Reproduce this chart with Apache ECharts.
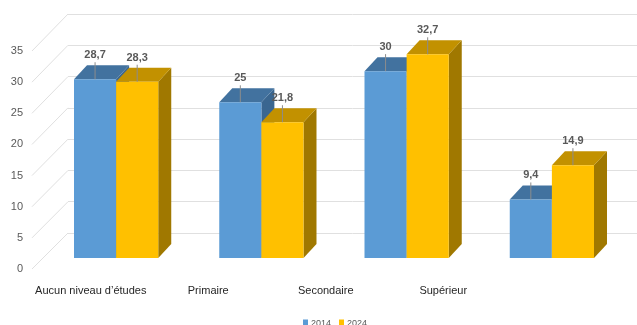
<!DOCTYPE html>
<html>
<head>
<meta charset="utf-8">
<script src="https://cdn.jsdelivr.net/npm/echarts@6/dist/echarts.min.js"></script>
<style>
  html, body { margin: 0; padding: 0; background: #ffffff; }
  #chart { width: 637px; height: 325px; }
</style>
</head>
<body>
<div id="chart"></div>
<script>
// Population by level of education, 2014 vs 2024 (%)
const categories = ['Aucun niveau d’études', 'Primaire', 'Secondaire', 'Supérieur'];
const seriesNames = ['2014', '2024'];
const values2014 = [28.7, 25, 30, 9.4];
const values2024 = [28.3, 21.8, 32.7, 14.9];
const yMin = 0, yMax = 35, yStep = 5;

const FONT = "'Liberation Sans Narrow', 'Arial Narrow', 'Liberation Sans', sans-serif";

// 3D look: depth offset of the columns and the floor/wall perspective
const DEPTH_X = 13, DEPTH_Y = -14;
const BAR_FRACTION = 0.29;

// Layout of the three planes: back wall, column plane, front (axis labels)
const BACK = { left: 68, right: 0, top: 14, bottom: 92 };
const MID = { left: 43.5, right: 12.5, top: 40, bottom: 67 };
const FRONT = { left: 32, right: 135, top: 51, bottom: 56 };

const palette = [
  { front: '#5b9bd5', top: '#42729f', side: '#3a6690' },
  { front: '#ffc000', top: '#c29100', side: '#a07800' }
];

function fmt(v) { return String(v).replace('.', ','); }

function barRenderer(slot) {
  const c = palette[slot];
  return function (params, api) {
    const idx = api.value(0), val = api.value(1);
    const top = api.coord([idx, val]);
    const base = api.coord([idx, yMin]);
    const band = api.size([1, 0])[0];
    const w = band * BAR_FRACTION;
    const x0 = top[0] - w + slot * w, x1 = x0 + w;
    const yt = top[1], yb = base[1];
    const cx = (x0 + x1) / 2;
    return {
      type: 'group',
      children: [
        { type: 'polygon', shape: { points: [[x1, yt], [x1 + DEPTH_X, yt + DEPTH_Y], [x1 + DEPTH_X, yb + DEPTH_Y], [x1, yb]] },
          style: { fill: c.side } },
        { type: 'polygon', shape: { points: [[x0, yt], [x1, yt], [x1 + DEPTH_X, yt + DEPTH_Y], [x0 + DEPTH_X, yt + DEPTH_Y]] },
          style: { fill: c.top } },
        { type: 'rect', shape: { x: x0, y: yt, width: w, height: yb - yt },
          style: { fill: c.front } },
        { type: 'line', shape: { x1: cx, y1: yt, x2: cx, y2: yt - 17 },
          style: { stroke: '#8c8c8c', lineWidth: 1 } },
        { type: 'text', x: cx, y: yt - 24,
          style: { text: fmt(val), fill: '#595959', font: 'bold 11px ' + FONT, align: 'center', verticalAlign: 'middle' } }
      ]
    };
  };
}

const chart = echarts.init(document.getElementById('chart'), null, { renderer: 'canvas' });

const option = {
  animation: false,
  backgroundColor: '#ffffff',
  grid: [
    Object.assign({ containLabel: false }, BACK),
    Object.assign({ containLabel: false }, MID),
    Object.assign({ containLabel: false }, FRONT)
  ],
  xAxis: [
    { gridIndex: 0, type: 'value', min: 0, max: 1, show: false },
    { gridIndex: 1, type: 'category', data: categories, show: false },
    { gridIndex: 2, type: 'category', data: categories,
      axisLine: { show: false }, axisTick: { show: false },
      axisLabel: { margin: 16, color: '#262626', fontSize: 11, fontFamily: FONT, interval: 0 } }
  ],
  yAxis: [
    { gridIndex: 0, type: 'value', min: yMin, max: yMax, interval: yStep,
      axisLine: { show: false }, axisTick: { show: false }, axisLabel: { show: false },
      splitLine: { lineStyle: { color: '#e0e0e0', width: 1 } } },
    { gridIndex: 1, type: 'value', min: yMin, max: yMax, interval: yStep, show: false },
    { gridIndex: 2, type: 'value', min: yMin, max: yMax, interval: yStep,
      axisLine: { show: false }, axisTick: { show: false }, splitLine: { show: false },
      axisLabel: { margin: 9, color: '#595959', fontSize: 11, fontFamily: FONT } }
  ],
  legend: {
    data: seriesNames,
    left: 298, top: 314,
    icon: 'rect', itemWidth: 5, itemHeight: 8, itemGap: 8,
    textStyle: { color: '#595959', fontSize: 9, fontFamily: FONT, padding: [0, 0, 0, -2] }
  },
  series: [
    { name: seriesNames[0], type: 'custom', xAxisIndex: 1, yAxisIndex: 1,
      itemStyle: { color: palette[0].front },
      encode: { x: 0, y: 1 },
      data: values2014.map((v, i) => [i, v]),
      renderItem: barRenderer(0) },
    { name: seriesNames[1], type: 'custom', xAxisIndex: 1, yAxisIndex: 1,
      itemStyle: { color: palette[1].front },
      encode: { x: 0, y: 1 },
      data: values2024.map((v, i) => [i, v]),
      renderItem: barRenderer(1) }
  ]
};

chart.setOption(option);

// Side-wall lines: join each front tick to its gridline on the back wall
const wallLines = [];
for (let v = yMin; v <= yMax; v += yStep) {
  const yFront = chart.convertToPixel({ yAxisIndex: 2 }, v);
  const yBack = chart.convertToPixel({ yAxisIndex: 0 }, v);
  const xBack = chart.convertToPixel({ xAxisIndex: 0 }, 0);
  wallLines.push({
    type: 'line', z: -1, silent: true,
    shape: { x1: FRONT.left, y1: yFront, x2: xBack, y2: yBack },
    style: { stroke: '#e0e0e0', lineWidth: 1 }
  });
}
chart.setOption({ graphic: wallLines });
</script>
</body>
</html>
